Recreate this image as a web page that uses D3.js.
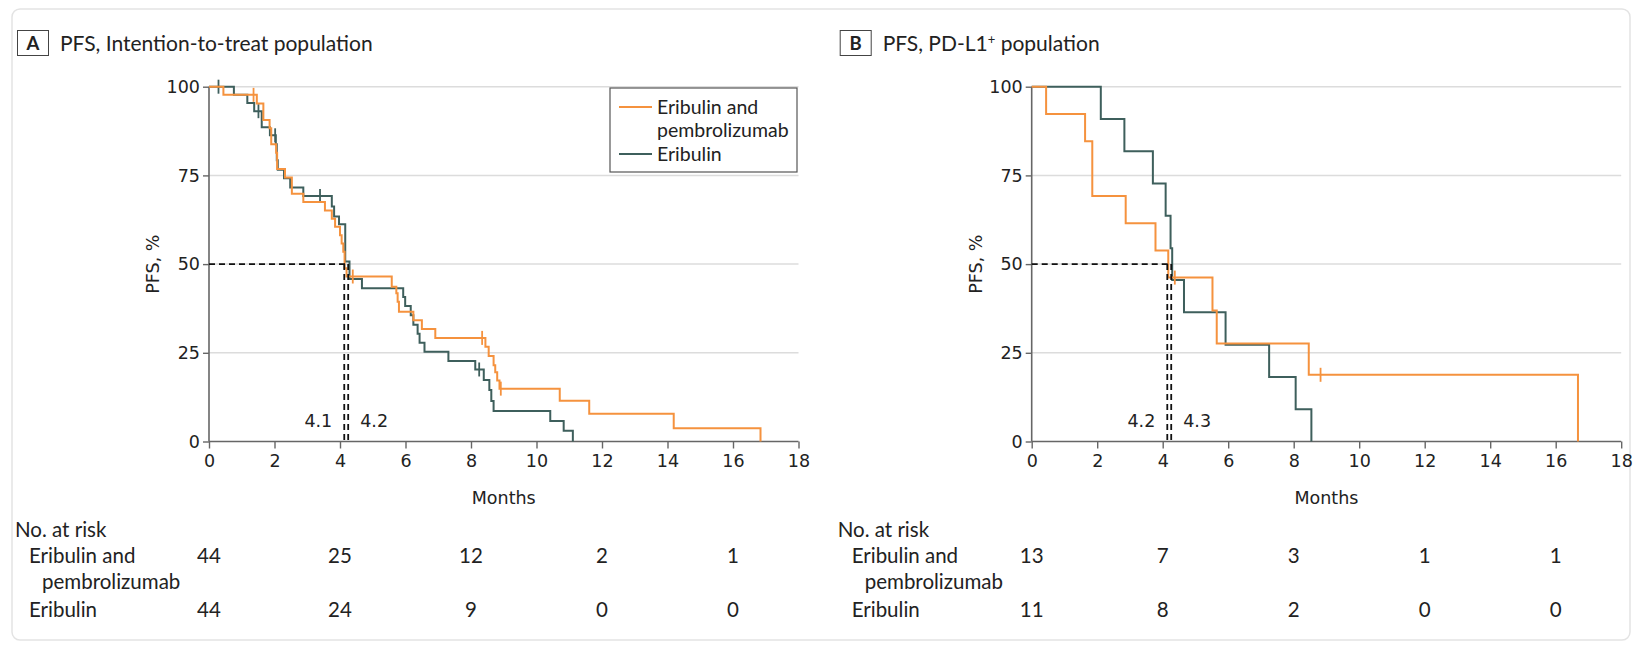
<!DOCTYPE html>
<html>
<head>
<meta charset="utf-8">
<script src="https://cdn.jsdelivr.net/npm/d3@7"></script>
<style>
  body { margin: 0; background: #fff; }
  svg { display: block; }
</style>
</head>
<body>
<svg id="chart" width="1636" height="646"></svg>
<script>
// values
const monthTicks = [0, 2, 4, 6, 8, 10, 12, 14, 16, 18];
const pctTicks = [0, 25, 50, 75, 100];
const riskMonths = [0, 4, 8, 12, 16];

// A - intention-to-treat population
const ittComboTime = [0, 0.44, 1.46, 1.66, 1.85, 1.9, 2.05, 2.08, 2.32, 2.53, 2.88, 3.54, 3.75, 3.85, 4.0, 4.05, 4.1, 4.14, 4.2, 5.58, 5.72, 5.76, 5.8, 6.24, 6.5, 6.91, 8.44, 8.54, 8.69, 8.74, 8.8, 8.87, 10.71, 11.61, 14.19, 16.84];
const ittComboSurv = [100, 97.7, 95.3, 90.6, 88.3, 83.8, 81.4, 76.8, 74.4, 69.8, 67.5, 65.1, 62.8, 60.5, 58.1, 55.8, 53.5, 48.8, 46.5, 43.6, 41.8, 39.4, 36.6, 34.2, 31.7, 29.2, 26.7, 24.1, 21.5, 19.5, 17.2, 14.9, 11.5, 7.8, 3.7, 0];
const ittComboCensor = [1.36, 4.39, 8.34, 8.91];

const ittEriTime = [0, 0.76, 1.17, 1.38, 1.61, 1.86, 2.04, 2.07, 2.1, 2.29, 2.48, 2.88, 3.75, 3.82, 3.97, 4.16, 4.29, 4.67, 5.93, 5.99, 6.16, 6.24, 6.37, 6.43, 6.58, 7.31, 8.13, 8.39, 8.56, 8.62, 8.69, 10.42, 10.83, 11.11];
const ittEriSurv = [100, 97.7, 95.4, 93.1, 88.6, 86.3, 83.8, 79.3, 76.6, 74.2, 71.6, 69.2, 66.2, 63.4, 61.2, 50.7, 45.8, 43.2, 40.7, 38.2, 35.6, 32.9, 30.4, 27.8, 25.3, 22.7, 20.3, 17.3, 14.5, 11.4, 8.6, 5.8, 3.0, 0];
const ittEriCensor = [0.29, 1.51, 2.02, 3.39, 8.25];

const ittMedians = [4.13, 4.25];
const ittMedianLabels = ['4.1', '4.2'];
const ittRiskCombo = [44, 25, 12, 2, 1];
const ittRiskEri = [44, 24, 9, 0, 0];

// B - PD-L1+ population
const pdComboTime = [0, 0.44, 1.63, 1.85, 2.87, 3.78, 4.17, 5.52, 5.65, 8.46, 16.68];
const pdComboSurv = [100, 92.3, 84.6, 69.2, 61.5, 53.8, 46.2, 36.9, 27.6, 18.8, 0];
const pdComboCensor = [4.37, 8.82];

const pdEriTime = [0, 2.11, 2.83, 3.7, 4.09, 4.24, 4.29, 4.65, 5.92, 7.25, 8.06, 8.54];
const pdEriSurv = [100, 90.9, 81.8, 72.7, 63.6, 54.5, 45.5, 36.4, 27.3, 18.2, 9.1, 0];
const pdEriCensor = [];

const pdMedians = [4.14, 4.26];
const pdMedianLabels = ['4.2', '4.3'];
const pdRiskCombo = [13, 7, 3, 1, 1];
const pdRiskEri = [11, 8, 2, 0, 0];

const orange = '#f5923e';
const teal = '#3e5f5c';
const textFont = 'Lato, "Open Sans", sans-serif';
const axisFont = '"DejaVu Sans", Verdana, sans-serif';

const svg = d3.select('#chart');

// outer card
svg.append('rect')
  .attr('x', 12).attr('y', 9)
  .attr('width', 1618).attr('height', 631)
  .attr('rx', 8)
  .attr('fill', '#fff')
  .attr('stroke', '#e3e3e3')
  .attr('stroke-width', 1.5);

function survAt(times, surv, t) {
  let s = surv[0];
  for (let i = 0; i < times.length; i++) {
    if (times[i] <= t) s = surv[i];
  }
  return s;
}

function drawPanel(dx, cfg) {
  const g = svg.append('g').attr('transform', `translate(${dx},0)`);
  const x = d3.scaleLinear().domain([0, 18]).range([209, 798.5]);
  const y = d3.scaleLinear().domain([0, 100]).range([441.5, 86.7]);

  // panel letter + title
  g.append('rect')
    .attr('x', 17.5).attr('y', 30.5)
    .attr('width', 31).attr('height', 25)
    .attr('fill', 'none').attr('stroke', '#444').attr('stroke-width', 1);
  g.append('text')
    .attr('x', 33).attr('y', 49.5)
    .attr('text-anchor', 'middle')
    .style('font-family', textFont).style('font-weight', 'bold').style('font-size', '18.5px')
    .attr('fill', '#222')
    .text(cfg.letter);
  const title = g.append('text')
    .attr('x', 60).attr('y', 50.5)
    .style('font-family', textFont).style('font-size', '21px')
    .attr('fill', '#222');
  title.append('tspan').text(cfg.title);
  if (cfg.sup) {
    title.append('tspan').attr('dy', -7).style('font-size', '13px').text(cfg.sup);
    title.append('tspan').attr('dy', 7).text(cfg.titleEnd);
  }

  // gridlines
  g.append('g')
    .selectAll('line')
    .data(pctTicks.filter(d => d > 0))
    .join('line')
    .attr('x1', x(0)).attr('x2', x(18))
    .attr('y1', d => y(d)).attr('y2', d => y(d))
    .attr('stroke', '#dcdcdc').attr('stroke-width', 1.5);

  // axes
  const xAxis = g.append('g')
    .attr('transform', `translate(0,${y(0)})`)
    .call(d3.axisBottom(x).tickValues(monthTicks).tickSize(7).tickPadding(6));
  const yAxis = g.append('g')
    .attr('transform', `translate(${x(0)},0)`)
    .call(d3.axisLeft(y).tickValues(pctTicks).tickSize(6).tickPadding(3));
  [xAxis, yAxis].forEach(a => {
    a.select('.domain').attr('stroke', '#666').attr('stroke-width', 1.6);
    a.selectAll('.tick line').attr('stroke', '#666').attr('stroke-width', 1.4);
    a.selectAll('.tick text')
      .style('font-family', axisFont).style('font-size', '17.5px')
      .attr('fill', '#222');
  });
  xAxis.select('.domain').attr('d', `M${x(0)},0H${x(18)}`);
  yAxis.select('.domain').attr('d', `M0,${y(0)}V${y(100)}`);

  g.append('text')
    .attr('x', (x(0) + x(18)) / 2).attr('y', 504)
    .attr('text-anchor', 'middle')
    .style('font-family', axisFont).style('font-size', '17.5px')
    .attr('fill', '#222')
    .text('Months');
  g.append('text')
    .attr('transform', `translate(${x(0) - 50},${y(50)}) rotate(-90)`)
    .attr('text-anchor', 'middle')
    .style('font-family', axisFont).style('font-size', '17.5px')
    .attr('fill', '#222')
    .text('PFS, %');

  // curves
  const line = d3.line()
    .x(d => x(d[0]))
    .y(d => y(d[1]))
    .curve(d3.curveStepAfter);

  cfg.series.forEach(s => {
    const pts = s.time.map((t, i) => [t, s.surv[i]]);
    g.append('path')
      .datum(pts)
      .attr('d', line)
      .attr('fill', 'none')
      .attr('stroke', s.color)
      .attr('stroke-width', 2);
    g.append('g')
      .selectAll('line')
      .data(s.censor)
      .join('line')
      .attr('x1', d => x(d)).attr('x2', d => x(d))
      .attr('y1', d => y(survAt(s.time, s.surv, d)) - 7)
      .attr('y2', d => y(survAt(s.time, s.surv, d)) + 7)
      .attr('stroke', s.color)
      .attr('stroke-width', 1.8);
  });

  // median guides
  const med = cfg.medians;
  g.append('line')
    .attr('x1', x(0)).attr('x2', x(d3.max(med)))
    .attr('y1', y(50)).attr('y2', y(50))
    .attr('stroke', '#111').attr('stroke-width', 1.8)
    .attr('stroke-dasharray', '6,4');
  g.append('g')
    .selectAll('line')
    .data(med)
    .join('line')
    .attr('x1', d => x(d)).attr('x2', d => x(d))
    .attr('y1', y(50)).attr('y2', y(0))
    .attr('stroke', '#111').attr('stroke-width', 1.8)
    .attr('stroke-dasharray', '6,4');
  g.append('text')
    .attr('x', x(med[0]) - 12).attr('y', 427)
    .attr('text-anchor', 'end')
    .style('font-family', axisFont).style('font-size', '17.5px')
    .attr('fill', '#222')
    .text(cfg.medianLabels[0]);
  g.append('text')
    .attr('x', x(med[1]) + 12).attr('y', 427)
    .attr('text-anchor', 'start')
    .style('font-family', axisFont).style('font-size', '17.5px')
    .attr('fill', '#222')
    .text(cfg.medianLabels[1]);

  // legend (panel A only)
  if (cfg.legend) {
    const lg = g.append('g');
    lg.append('rect')
      .attr('x', 610).attr('y', 88)
      .attr('width', 187).attr('height', 84)
      .attr('fill', '#fff').attr('stroke', '#555').attr('stroke-width', 1.2);
    const rows = [
      { color: orange, ly: 107, lines: ['Eribulin and', 'pembrolizumab'] },
      { color: teal, ly: 154, lines: ['Eribulin'] }
    ];
    rows.forEach(r => {
      lg.append('line')
        .attr('x1', 619).attr('x2', 652)
        .attr('y1', r.ly).attr('y2', r.ly)
        .attr('stroke', r.color).attr('stroke-width', 2);
      r.lines.forEach((t, i) => {
        lg.append('text')
          .attr('x', 657).attr('y', r.ly + 7 + i * 23)
          .style('font-family', textFont).style('font-size', '19.5px')
          .attr('fill', '#222')
          .text(t);
      });
    });
  }

  // number at risk table
  const rt = g.append('g')
    .style('font-family', textFont).style('font-size', '20.5px')
    .attr('fill', '#222');
  rt.append('text').attr('x', 15).attr('y', 537).text('No. at risk');
  rt.append('text').attr('x', 29).attr('y', 563).text('Eribulin and');
  rt.append('text').attr('x', 42).attr('y', 589).text('pembrolizumab');
  rt.append('text').attr('x', 29).attr('y', 617).text('Eribulin');
  rt.append('g')
    .selectAll('text')
    .data(cfg.riskCombo)
    .join('text')
    .attr('x', (d, i) => x(riskMonths[i])).attr('y', 563)
    .attr('text-anchor', 'middle')
    .text(d => d);
  rt.append('g')
    .selectAll('text')
    .data(cfg.riskEri)
    .join('text')
    .attr('x', (d, i) => x(riskMonths[i])).attr('y', 617)
    .attr('text-anchor', 'middle')
    .text(d => d);
}

drawPanel(0, {
  letter: 'A',
  title: 'PFS, Intention-to-treat population',
  series: [
    { time: ittEriTime, surv: ittEriSurv, censor: ittEriCensor, color: teal },
    { time: ittComboTime, surv: ittComboSurv, censor: ittComboCensor, color: orange }
  ],
  medians: ittMedians,
  medianLabels: ittMedianLabels,
  riskCombo: ittRiskCombo,
  riskEri: ittRiskEri,
  legend: true
});

drawPanel(822.7, {
  letter: 'B',
  title: 'PFS, PD-L1',
  sup: '+',
  titleEnd: ' population',
  series: [
    { time: pdEriTime, surv: pdEriSurv, censor: pdEriCensor, color: teal },
    { time: pdComboTime, surv: pdComboSurv, censor: pdComboCensor, color: orange }
  ],
  medians: pdMedians,
  medianLabels: pdMedianLabels,
  riskCombo: pdRiskCombo,
  riskEri: pdRiskEri,
  legend: false
});
</script>
</body>
</html>
